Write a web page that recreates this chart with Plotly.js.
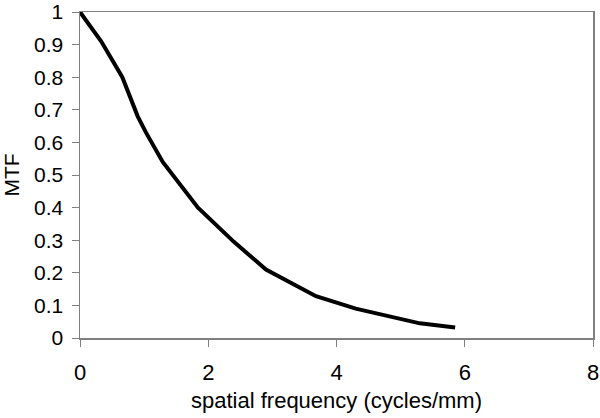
<!DOCTYPE html>
<html>
<head>
<meta charset="utf-8">
<script src="https://cdn.plot.ly/plotly-3.0.1.min.js"></script>
<style>
  html, body { margin: 0; padding: 0; background: #fff; }
  #chart { width: 600px; height: 418px; }
</style>
</head>
<body>
<div id="chart"></div>
<script>
"use strict";
// spatial frequency (cycles/mm)
var freq = [0, 0.33, 0.66, 0.9, 1.03, 1.29, 1.84, 2.4, 2.9, 3.68, 4.3, 5.0, 5.3, 5.85];
// MTF values
var mtf = [1, 0.91, 0.80, 0.68, 0.63, 0.54, 0.40, 0.295, 0.21, 0.128, 0.09, 0.06, 0.045, 0.032];
var xTicks = [0, 2, 4, 6, 8];
var yTicks = [0, 0.1, 0.2, 0.3, 0.4, 0.5, 0.6, 0.7, 0.8, 0.9, 1];

var trace = {
  x: freq,
  y: mtf,
  type: 'scatter',
  mode: 'lines',
  line: {color: '#000', width: 4},
  hoverinfo: 'skip'
};

var fnt = {family: 'Liberation Sans, Arial, sans-serif', size: 21, color: '#000'};
var xfnt = {family: 'Liberation Sans, Arial, sans-serif', size: 22, color: '#000'};

var format = {
  width: 600,
  height: 418,
  margin: {l: 80, r: 7, t: 12, b: 80},
  paper_bgcolor: '#fff',
  plot_bgcolor: '#fff',
  showlegend: false,
  font: fnt,
  xaxis: {
    range: [0, 8],
    tickvals: xTicks,
    ticktext: xTicks.map(String),
    ticks: 'outside',
    ticklen: 7,
    tickcolor: '#808080',
    tickwidth: 1,
    ticklabelstandoff: 7,
    ticklabeloverflow: 'allow',
    showline: true,
    linecolor: '#808080',
    linewidth: 1.5,
    mirror: true,
    showgrid: false,
    zeroline: false,
    tickfont: xfnt,
    title: {text: 'spatial frequency (cycles/mm)', font: xfnt, standoff: 8}
  },
  yaxis: {
    range: [0, 1],
    tickvals: yTicks,
    ticktext: yTicks.map(String),
    ticks: 'outside',
    ticklen: 7,
    tickcolor: '#808080',
    tickwidth: 1,
    ticklabelstandoff: 4,
    ticklabeloverflow: 'allow',
    showline: true,
    linecolor: '#808080',
    linewidth: 1.5,
    mirror: true,
    showgrid: false,
    zeroline: false,
    tickfont: fnt,
    title: {text: 'MTF', font: fnt, standoff: 12}
  }
};

Plotly.newPlot('chart', [trace], format, {staticPlot: true});
</script>
</body>
</html>
